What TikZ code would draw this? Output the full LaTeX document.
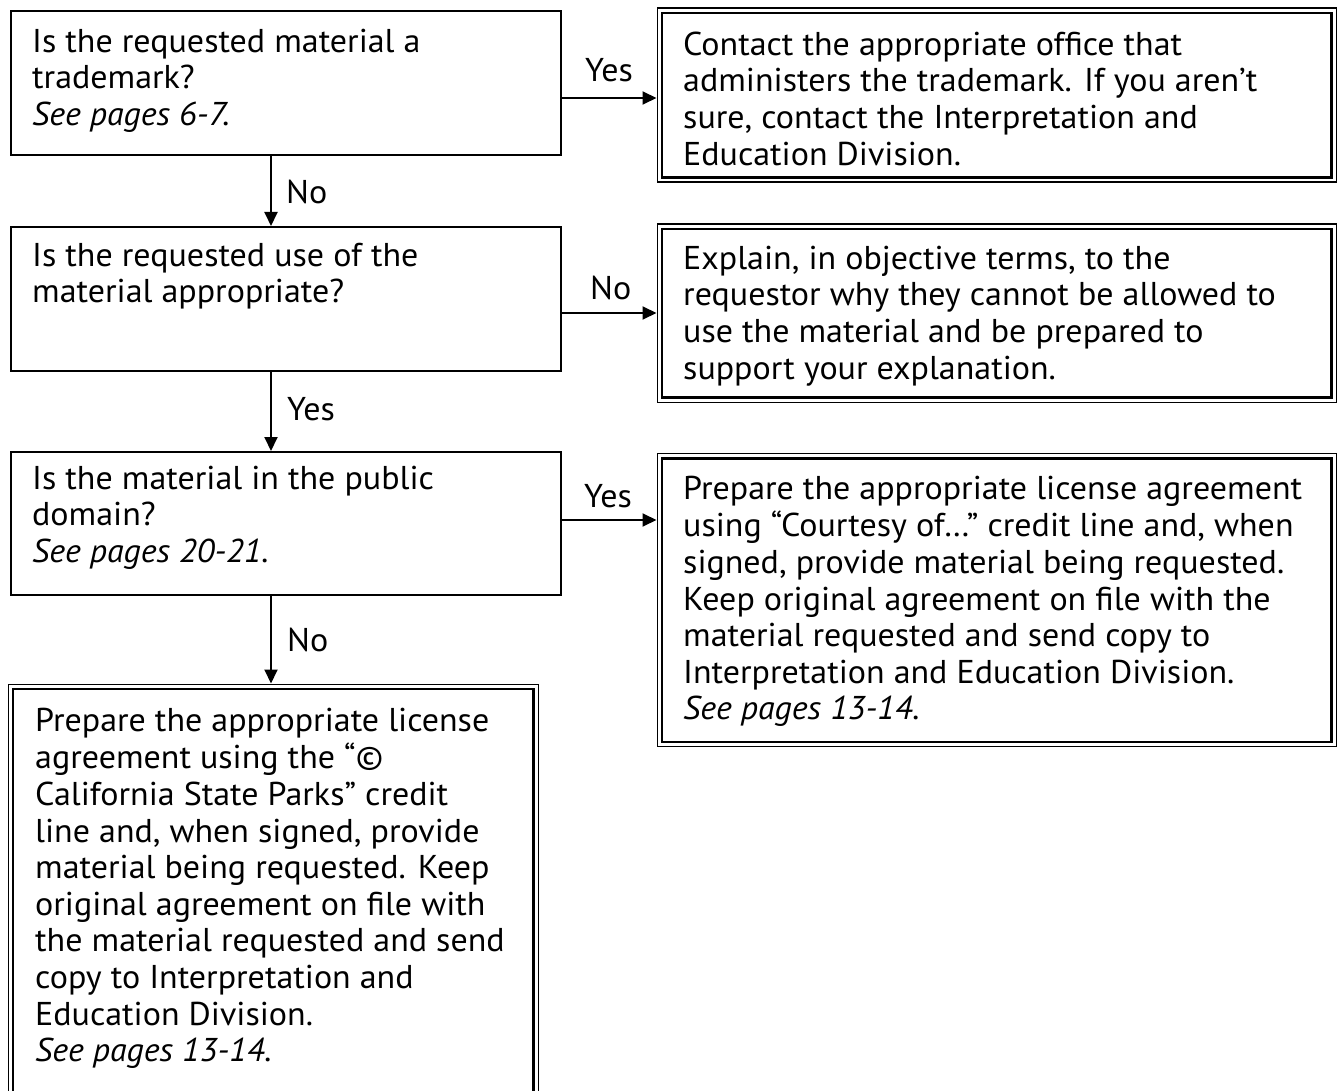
\documentclass[tikz,border=0pt]{standalone}
\usepackage{fontspec}
\setmainfont{PT Sans}[FakeStretch=1.03]
\usetikzlibrary{arrows.meta}
\tikzset{
  sbox/.style={draw, line width=1.9pt, inner sep=0pt},
  dbox/.style={draw, line width=1.4pt, inner sep=0pt},
  dinner/.style={line width=2.6pt},
  txt/.style={inner sep=0pt, align=left, anchor=north west,
    font=\fontsize{33}{36.6}\selectfont},
  lbl/.style={inner sep=0pt, anchor=base west, font=\fontsize{33}{36.6}\selectfont},
  arr/.style={line width=1.9pt, -{Triangle[length=14pt,width=13pt]}},
}
\newcommand{\dblin}[1]{\draw[dinner] ([shift={(5.5,5.5)}]#1.north west) rectangle ([shift={(-5.5,-5.5)}]#1.south east);}
\begin{document}
\begin{tikzpicture}[x=1pt,y=-1pt]
\clip (0,0) rectangle (1340,1091);
% question boxes
\node[sbox, anchor=north west, minimum width=550pt, minimum height=144pt] (b1) at (10,10) {};
\node[sbox, anchor=north west, minimum width=550pt, minimum height=144pt] (b2) at (10,226) {};
\node[sbox, anchor=north west, minimum width=550pt, minimum height=143pt] (b3) at (10,451) {};
% answer boxes
\node[dbox, anchor=north west, minimum width=679pt, minimum height=174pt] (ba) at (656.5,7.5) {};
\node[dbox, anchor=north west, minimum width=679pt, minimum height=178pt] (bb) at (656.5,223.5) {};
\node[dbox, anchor=north west, minimum width=679pt, minimum height=293pt] (bc) at (656.5,453) {};
\node[dbox, anchor=north west, minimum width=530pt, minimum height=415pt] (bd) at (7.5,683.5) {};
\dblin{ba}\dblin{bb}\dblin{bc}\dblin{bd}
% texts
\node[txt] (t1) at (32,26.4) {\strut Is the requested material a\\trademark?\\\textit{See pages 6-7.}};
\node[txt] (t2) at (32,240.4) {\strut Is the requested use of the\\material appropriate?};
\node[txt] (t3) at (32,463.4) {\strut Is the material in the public\\domain?\\\textit{See pages 20-21.}};
\node[txt] (ta) at (683,29.4) {\strut Contact the appropriate office that\\administers the trademark. If you aren’t\\sure, contact the Interpretation and\\Education Division.};
\node[txt] (tb) at (683,243.4) {\strut Explain, in objective terms, to the\\requestor why they cannot be allowed to\\use the material and be prepared to\\support your explanation.};
\node[txt] (tc) at (683,473.4) {\strut Prepare the appropriate license agreement\\using “Courtesy of…” credit line and, when\\signed, provide material being requested.\\Keep original agreement on file with the\\material requested and send copy to\\Interpretation and Education Division.\\\textit{See pages 13-14.}};
\node[txt] (td) at (35,705.4) {\strut Prepare the appropriate license\\agreement using the “©\\California State Parks” credit\\line and, when signed, provide\\material being requested. Keep\\original agreement on file with\\the material requested and send\\copy to Interpretation and\\Education Division.\\\textit{See pages 13-14.}};
% connectors
\draw[arr] (b1.east |- 0,98) -- (ba.west |- 0,98);
\draw[arr] (b2.east |- 0,313) -- (bb.west |- 0,313);
\draw[arr] (b3.east |- 0,520) -- (bc.west |- 0,520);
\draw[arr] (b1.south -| 271,0) -- (b2.north -| 271,0);
\draw[arr] (b2.south -| 271,0) -- (b3.north -| 271,0);
\draw[arr] (b3.south -| 271,0) -- (bd.north -| 271,0);
% labels
\node[lbl] (l1) at (585,82) {Yes};
\node[lbl] (l2) at (286,204) {No};
\node[lbl] (l3) at (590,299) {No};
\node[lbl] (l4) at (287,420) {Yes};
\node[lbl] (l5) at (584,507) {Yes};
\node[lbl] (l6) at (287,651) {No};
\end{tikzpicture}
\end{document}
